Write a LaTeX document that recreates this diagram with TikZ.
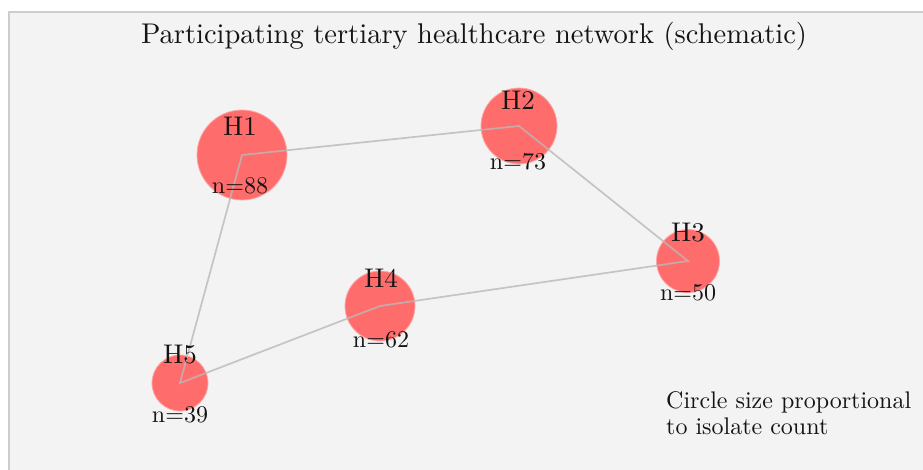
\documentclass[tikz,border=0pt]{standalone}
\usepackage{fontspec}
\setmainfont{lmroman10-regular.otf}
\definecolor{panelbg}{RGB}{243,243,243}
\definecolor{panelrule}{RGB}{205,205,205}
\definecolor{hosp}{RGB}{255,108,108}
\definecolor{linkc}{RGB}{185,185,185}
\definecolor{txt}{RGB}{20,20,20}
\tikzset{
  hospital/.style={circle, fill=hosp, draw=hosp!60!white, line width=0.8pt, inner sep=0pt, minimum size=#1},
  link/.style={draw=linkc, line width=1.7pt, opacity=0.8},
  hname/.style={text=txt, font=\fontsize{27}{30}\selectfont, inner sep=0pt},
  hcount/.style={text=txt, font=\fontsize{24}{26}\selectfont, inner sep=0pt},
}
\begin{document}
\begin{tikzpicture}[x=1pt,y=-1pt]
\useasboundingbox (0,0) rectangle (923,469);
\fill[white] (0,0) rectangle (923,469);
\path[fill=panelbg, draw=panelrule, line width=1.5pt] (9,12) rectangle (935,480);
\node[text=txt, font=\fontsize{28.5}{32}\selectfont, inner sep=0pt] (title) at (474,36) {Participating tertiary healthcare network (schematic)};
% hospitals
\node[hospital=90pt] (h1) at (242,155) {};
\node[hospital=76pt] (h2) at (519,126) {};
\node[hospital=63pt] (h3) at (688,261) {};
\node[hospital=70pt] (h4) at (380,306) {};
\node[hospital=56pt] (h5) at (180,383) {};
% links
\draw[link] (h1.center) -- (h2.center) -- (h3.center) -- (h4.center) -- (h5.center) -- (h1.center);
% labels
\node[hname] (h1l) at (240,126) {H1};
\node[hcount] (h1n) at (240,186) {n=88};
\node[hname] (h2l) at (518,100) {H2};
\node[hcount] (h2n) at (518,162) {n=73};
\node[hname] (h3l) at (688,233) {H3};
\node[hcount] (h3n) at (688,293) {n=50};
\node[hname] (h4l) at (381,278) {H4};
\node[hcount] (h4n) at (381,340) {n=62};
\node[hname] (h5l) at (180,355) {H5};
\node[hcount] (h5n) at (180,415) {n=39};
% legend
\node[text=txt, font=\fontsize{24}{26}\selectfont, align=left, anchor=north west, inner sep=0pt] (legend) at (666,391) {Circle size proportional\\to isolate count};
\end{tikzpicture}
\end{document}
